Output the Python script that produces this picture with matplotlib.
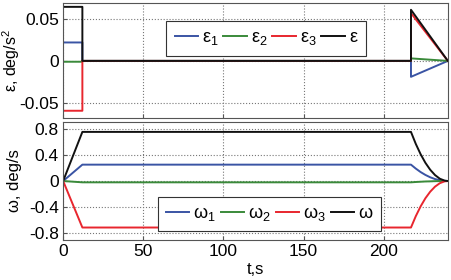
import matplotlib.pyplot as plt
import numpy as np

plt.rcParams['font.family'] = ['Liberation Sans', 'DejaVu Sans']
plt.rcParams['mathtext.fontset'] = 'custom'
plt.rcParams['mathtext.rm'] = 'Liberation Sans'
plt.rcParams['mathtext.it'] = 'Liberation Sans'

# angular acceleration (step during spin-up, linear ramp during spin-down)
t_eps = [0, 12, 12, 217, 217, 240]
eps1 = [0.022, 0.022, 0, 0, -0.019, 0]
eps2 = [-0.001, -0.001, 0, 0, 0.003, 0]
eps3 = [-0.0595, -0.0595, 0, 0, 0.057, 0]
eps = [0.0645, 0.0645, 0, 0, 0.061, 0]

# angular velocity
t_om = [0, 12, 217, 220, 223, 226, 229, 232, 235, 238, 240]
om1 = [0, 0.25, 0.25, 0.19, 0.137, 0.093, 0.057, 0.030, 0.012, 0.002, 0]
om2 = [0, -0.02, -0.02, -0.015, -0.011, -0.007, -0.005, -0.002, -0.001, 0, 0]
om3 = [0, -0.71, -0.71, -0.537, -0.388, -0.263, -0.163, -0.086, -0.033, -0.005, 0]
om = [0, 0.75, 0.75, 0.567, 0.41, 0.278, 0.172, 0.091, 0.035, 0.006, 0]

colors = ['#3a54a4', '#3a8a3a', '#e8262e', '#111111']

fig = plt.figure(figsize=(4.51, 2.80), dpi=100)
ax1 = fig.add_axes([0.140, 0.579, 0.853, 0.410])
ax2 = fig.add_axes([0.140, 0.143, 0.853, 0.421])

for y, c, lab in zip([eps1, eps2, eps3, eps], colors,
                     [r'$\epsilon_1$', r'$\epsilon_2$', r'$\epsilon_3$', r'$\epsilon$']):
    ax1.plot(t_eps, y, color=c, lw=1.4, label=lab)

for y, c, lab in zip([om1, om2, om3, om], colors,
                     [r'$\omega_1$', r'$\omega_2$', r'$\omega_3$', r'$\omega$']):
    ax2.plot(t_om, y, color=c, lw=1.4, label=lab)

ax1.set_xlim(0, 240)
ax1.set_ylim(-0.068, 0.069)
ax1.set_yticks([-0.05, 0, 0.05])
ax1.set_yticklabels(['-0.05', '0', '0.05'])
ax1.set_xticks([0, 50, 100, 150, 200])
ax1.set_xticklabels([])
ax1.set_ylabel('ε, deg/s$^2$', fontsize=11.5)
ax1.yaxis.set_label_coords(-0.106, 0.5)

ax2.set_xlim(0, 240)
ax2.set_ylim(-0.9, 0.9)
ax2.set_yticks([-0.8, -0.4, 0, 0.4, 0.8])
ax2.set_yticklabels(['-0.8', '-0.4', '0', '0.4', '0.8'])
ax2.set_xticks([0, 50, 100, 150, 200])
ax2.set_xlabel('t,s', fontsize=12, labelpad=2)
ax2.set_ylabel('ω, deg/s', fontsize=12)
ax2.yaxis.set_label_coords(-0.106, 0.5)

for ax in [ax1, ax2]:
    ax.grid(True, linestyle=':', color='#777777', lw=0.8)
    ax.tick_params(labelsize=12.5, direction='in', length=3, color='#555555', pad=3)
    for s in ax.spines.values():
        s.set_color('#555555')

leg_kw = dict(ncol=4, fontsize=13, frameon=True, fancybox=False, handlelength=1.3,
              handletextpad=0.2, columnspacing=0.3, borderpad=0.45, framealpha=1)
l1 = ax1.legend(loc='upper left', bbox_to_anchor=(0.245, 0.92), **leg_kw)
l2 = ax2.legend(loc='upper left', bbox_to_anchor=(0.222, 0.44), **leg_kw)
for l in [l1, l2]:
    l.get_frame().set_edgecolor('#333333')
    l.get_frame().set_linewidth(0.8)

fig.savefig('out.png', dpi=100)
